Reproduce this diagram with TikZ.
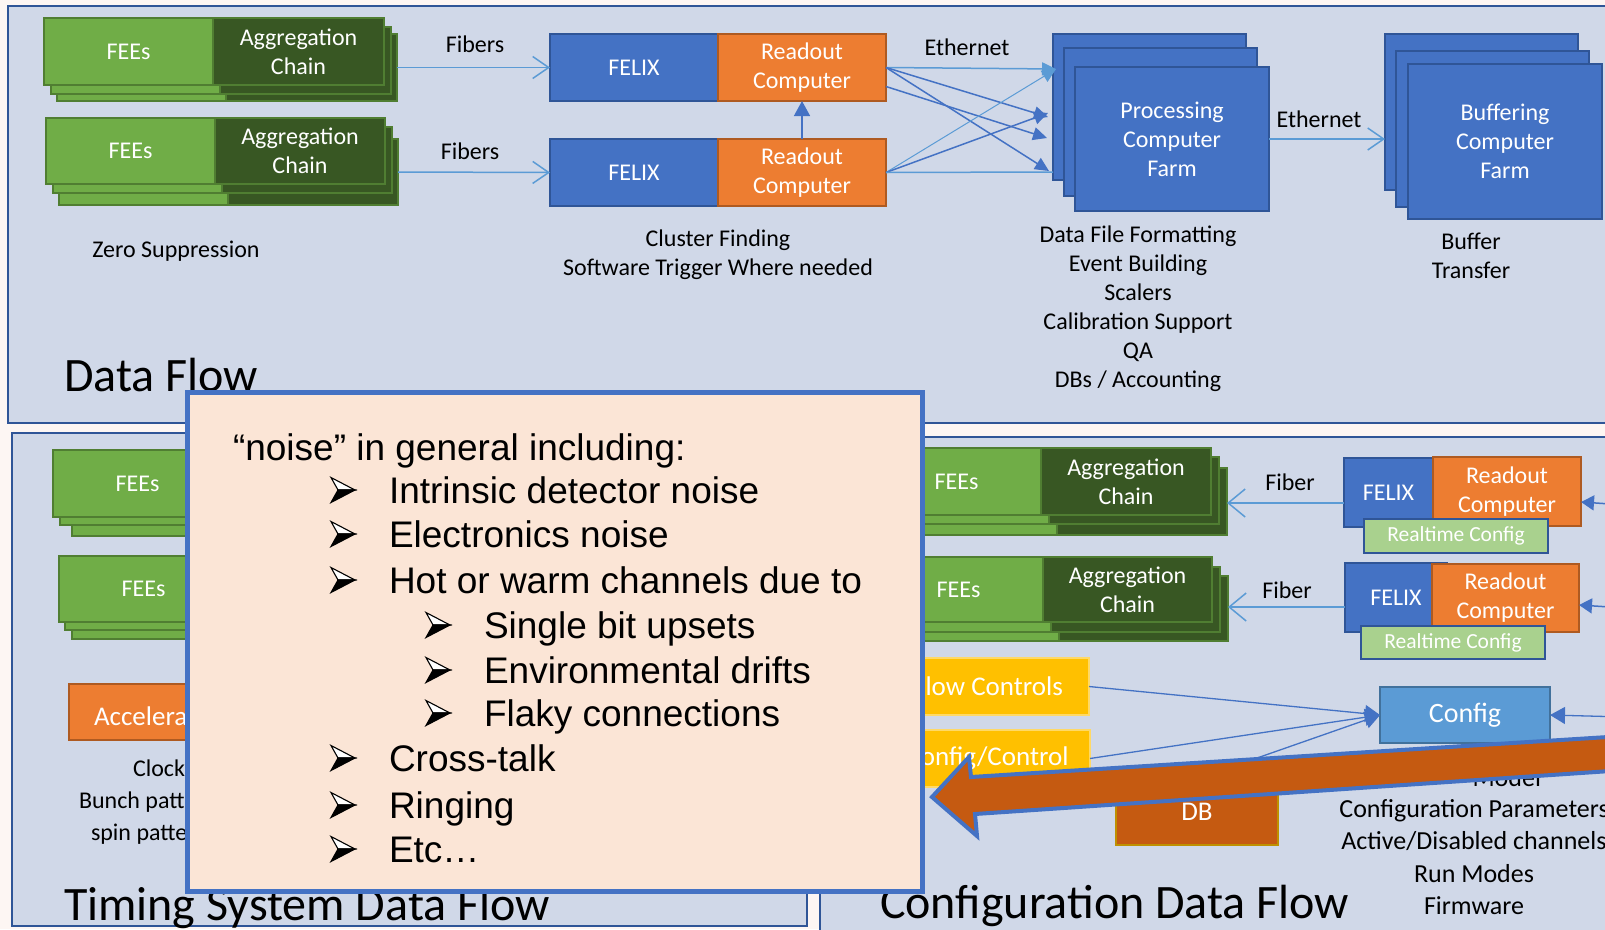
\documentclass[tikz,border=0pt]{standalone}
\usepackage{fontspec}
\setmainfont{Carlito}
\newfontfamily\arialfont{Liberation Sans}
\usetikzlibrary{arrows.meta,fit}

\definecolor{pagebg}{HTML}{FDF6F3}
\definecolor{panelfill}{HTML}{D0D8E8}
\definecolor{panelline}{HTML}{2F5597}
\definecolor{feegreen}{HTML}{70AD47}
\definecolor{feeline}{HTML}{507E32}
\definecolor{aggdark}{HTML}{385723}
\definecolor{boxblue}{HTML}{4472C4}
\definecolor{boxblueline}{HTML}{2F5597}
\definecolor{roorange}{HTML}{ED7D31}
\definecolor{roline}{HTML}{AE5A21}
\definecolor{lightblue}{HTML}{5B9BD5}
\definecolor{cfgline}{HTML}{41719C}
\definecolor{rtgreen}{HTML}{A9D18E}
\definecolor{slowyellow}{HTML}{FFC000}
\definecolor{slowline}{HTML}{FFD966}
\definecolor{dbfill}{HTML}{C55A11}
\definecolor{dbline}{HTML}{BF9000}
\definecolor{notefill}{HTML}{FBE5D6}

\newcommand\fsz[2]{\fontsize{#1}{#2}\selectfont}

\tikzset{
  every node/.style={inner sep=0pt, outer sep=0pt},
  panel/.style={fill=panelfill, draw=panelline, line width=2.5pt},
  boxbase/.style={line width=2pt},
  boxtext/.style={text=white, font=\fsz{24}{29}, align=center},
  txt/.style={label={[boxtext]center:{#1}}},
  feebox/.style={boxbase, fill=feegreen, draw=feeline},
  aggbox/.style={boxbase, fill=aggdark, draw=feeline},
  felixbox/.style={boxbase, fill=boxblue, draw=boxblueline},
  robox/.style={boxbase, fill=roorange, draw=roline},
  farmbox/.style={boxbase, fill=boxblue, draw=boxblueline, line width=2.5pt},
  rtbox/.style={boxbase, fill=rtgreen, draw=boxblueline, line width=2.5pt},
  slowbox/.style={boxbase, fill=slowyellow, draw=slowline},
  cfgbox/.style={boxbase, fill=lightblue, draw=cfgline},
  dbbox/.style={boxbase, fill=dbfill, draw=dbline},
  lbl/.style={font=\fsz{24}{29}, align=center},
  titletext/.style={font=\fsz{48}{56}, anchor=base west},
  fiber/.style={draw=lightblue, line width=1.5pt, -{Straight Barb[length=16pt,width=22pt,line width=1.5pt]}},
  fiberback/.style={draw=lightblue, line width=1.5pt, -{Straight Barb[length=17pt,width=28pt,line width=1.5pt]}},
  eth/.style={draw=boxblue, line width=1.5pt, -{Triangle[length=14pt,width=13pt]}},
  ethl/.style={draw=lightblue, line width=1.5pt, -{Triangle[length=14pt,width=13pt]}},
  cfgarrow/.style={draw=boxblue, line width=1.3pt, -{Triangle[length=15pt,width=17pt]}},
  bigarrow/.style={fill=dbfill, draw=boxblue, line width=4pt, line join=miter},
  noteline/.style={font=\arialfont\fsz{37}{44}, anchor=base west},
  notebullet/.pic={
    \filldraw[fill=white, draw=black, line width=1.1pt, line join=miter]
      (12,0) -- (-12,-12.5) -- (-5,0) -- cycle;
    \filldraw[fill=black, draw=black, line width=1.1pt, line join=miter]
      (12,0) -- (-5,0) -- (-12,12.5) -- cycle;
  },
}

% one layer of an FEE / aggregation stack: name, x-left, x-split, x-right, y-top, y-bottom
\newcommand\feelayer[6]{%
  \node[feebox, fit={(#2,#5)(#3,#6)}] (#1f) {};
  \node[aggbox, fit={(#3,#5)(#4,#6)}] (#1a) {};}

\begin{document}
\begin{tikzpicture}[x=1pt,y=-1pt]
\useasboundingbox (0,0) rectangle (1605,929);
\clip (0,0) rectangle (1605,929);
\fill[pagebg] (0,0) rectangle (1605,929);

% ---------- panels
\node[panel, fit={(8,6)(1640,423)}] (dfpanel) {};
\node[panel, fit={(12,433)(807,926)}] (tspanel) {};
\node[panel, fit={(820,437)(1640,950)}] (cfpanel) {};

% ---------- data flow: detector side
\feelayer{a3}{57}{226}{397}{34}{101}
\feelayer{a2}{51}{220}{391}{27}{94}
\node[feebox, fit={(44,18)(213,85)}, txt={FEEs}] (a1f) {};
\node[aggbox, fit={(213,18)(384,85)}, txt={Aggregation\\Chain}] (a1a) {};

\feelayer{b3}{59}{228}{398}{139}{205}
\feelayer{b2}{53}{222}{392}{127}{193}
\node[feebox, fit={(46,118)(215,184)}, txt={FEEs}] (b1f) {};
\node[aggbox, fit={(215,118)(385,184)}, txt={Aggregation\\Chain}] (b1a) {};

% FELIX + readout
\node[felixbox, fit={(550,34)(718,101)}, txt={FELIX}] (fx1) {};
\node[robox, fit={(718,34)(886,101)}, txt={Readout\\Computer}] (ro1) {};
\node[felixbox, fit={(550,139)(718,206)}, txt={FELIX}] (fx2) {};
\node[robox, fit={(718,139)(886,206)}, txt={Readout\\Computer}] (ro2) {};

\draw[fiber] (a3a.east) -- (fx1.west);
\draw[fiber] (b3a.east) -- (fx2.west);
\node[lbl] (fib1) at (475,44) {Fibers};
\node[lbl] (fib2) at (470,151) {Fibers};
\draw[draw=boxblue, line width=1.5pt, -{Triangle[length=15pt,width=16pt]}] (ro2.north) -- (ro1.south);

% processing farm
\node[farmbox, fit={(1053,34)(1246,180)}] (pfA) {};
\node[farmbox, fit={(1064,48)(1257,196)}] (pfB) {};
\node[farmbox, fit={(1075,67)(1269,211)}, txt={Processing\\Computer\\Farm}] (pfC) {};

% buffering farm
\node[farmbox, fit={(1385,34)(1578,190)}] (bfA) {};
\node[farmbox, fit={(1396,51)(1589,207)}] (bfB) {};
\node[farmbox, fit={(1408,64)(1602,219)}, txt={Buffering\\Computer\\Farm}] (bfC) {};

\draw[fiber] (pfC.east) -- (pfC.east -| bfA.west);
\node[lbl] (eth2) at (1319,119) {Ethernet};
\node[lbl] (eth1) at (967,47) {Ethernet};

% ethernet fan-out from the readout computers
\coordinate (pt1) at (1056,69);
\coordinate (pt2) at (1048,117);
\coordinate (pt3) at (1047,138);
\coordinate (pt4) at (1049,171);
\coordinate (pt5) at (1048,113);
\coordinate (pt6) at (1053,172);
\draw[ethl] (ro1.east) -- (pt1);
\draw[eth] (ro1.east) -- (pt2);
\draw[eth] (ro1.east) -- (pt4);
\draw[eth] ([yshift=-19pt]ro1.east) -- (pt3);
\draw[ethl, line width=1pt] (ro2.east) -- (pt1);
\draw[eth] (ro2.east) -- (pt5);
\draw[draw=lightblue, line width=1.5pt] (ro2.east) -- (pt6);

% annotations
\node[lbl] (zs) at (176,251) {Zero Suppression};
\node[lbl] (cf) at (718,255) {Cluster Finding\\Software Trigger Where needed};
\node[lbl] (dff) at (1138,309) {Data File Formatting\\Event Building\\Scalers\\Calibration Support\\QA\\DBs / Accounting};
\node[lbl] (bt) at (1471,256) {Buffer\\Transfer};
\node[titletext] (dftitle) at (64,391) {Data Flow};

% ---------- timing system
\node[feebox, fit={(72,469)(241,536)}] (t13) {};
\node[feebox, fit={(60,458)(229,525)}] (t12) {};
\node[feebox, fit={(53,450)(222,517)}, txt={FEEs}] (t11) {};
\node[feebox, fit={(72,573)(241,639)}] (t23) {};
\node[feebox, fit={(65,564)(234,630)}] (t22) {};
\node[feebox, fit={(59,556)(228,622)}, txt={FEEs}] (t21) {};
\node[robox, fit={(69,684)(300,740)}] (acc) {};
\node[font=\fsz{27}{32}, text=white, anchor=west] (acctext) at (94,716) {Accelerator};
\node[font=\fsz{24}{29}, anchor=base west] (clk) at (133,776) {Clock};
\node[font=\fsz{24}{29}, anchor=base west] (bunch) at (79,808) {Bunch pattern};
\node[font=\fsz{24}{29}, anchor=base west] (spin) at (91,840) {spin pattern};

% ---------- configuration data flow
\feelayer{c13}{888}{1057}{1227}{468}{535}
\feelayer{c12}{880}{1049}{1219}{457}{524}
\node[feebox, fit={(872,448)(1041,515)}, txt={FEEs}] (c11f) {};
\node[aggbox, fit={(1041,448)(1211,515)}, txt={Aggregation\\Chain}] (c11a) {};

\feelayer{c23}{890}{1059}{1228}{576}{641}
\feelayer{c22}{882}{1051}{1220}{567}{632}
\node[feebox, fit={(874,557)(1043,622)}, txt={FEEs}] (c21f) {};
\node[aggbox, fit={(1043,557)(1212,622)}, txt={Aggregation\\Chain}] (c21a) {};

\node[felixbox, fit={(1344,458)(1433,527)}, txt={FELIX}] (fx3) {};
\node[robox, fit={(1433,457)(1581,526)}, txt={Readout\\Computer}] (ro3) {};
\node[rtbox, fit={(1364,519)(1548,553)},
  label={[boxtext, font=\fsz{21.5}{26}]center:Realtime Config}] (rt3) {};
\node[felixbox, fit={(1345,563)(1447,632)}, txt={FELIX}] (fx4) {};
\node[robox, fit={(1432,564)(1579,632)}, txt={Readout\\Computer}] (ro4) {};
\node[rtbox, fit={(1361,626)(1545,659)},
  label={[boxtext, font=\fsz{21.5}{26}]center:Realtime Config}] (rt4) {};

\draw[fiberback] (fx3.west |- 0,503) -- (c13a.east |- 0,503);
\draw[fiberback] (fx4.west |- 0,607) -- (c23a.east |- 0,607);
\node[lbl] (fib3) at (1290,482) {Fiber};
\node[lbl] (fib4) at (1287,590) {Fiber};

\coordinate (rin3) at (1625,505);
\coordinate (rin4) at (1625,608);
\coordinate (cin) at (1625,717);
\draw[eth, -{Triangle[length=13pt,width=15pt]}] (rin3) -- (ro3.east |- 0,502);
\draw[eth, -{Triangle[length=13pt,width=15pt]}] (rin4) -- (ro4.east |- 0,605);

\node[slowbox, fit={(887,658)(1089,715)},
  label={[boxtext, font=\fsz{27}{32}]center:Slow Controls}] (slow) {};
\node[slowbox, fit={(885,730)(1090,787)},
  label={[boxtext, font=\fsz{27}{32}]center:Config/Control}] (cc) {};
\node[cfgbox, fit={(1380,687)(1550,743)},
  label={[boxtext, font=\fsz{28}{32}]center:Config}] (cfg) {};
\node[dbbox, fit={(1116,779)(1278,845)},
  label={[boxtext, font=\fsz{27}{32}]center:DB}] (db) {};

\draw[cfgarrow] (slow.east) -- (cfg.west);
\draw[cfgarrow] (cc.east) -- (cfg.west);
\draw[cfgarrow] (db.north) -- (cfg.west);
\draw[cfgarrow] (cin) -- (cfg.east);

\node[font=\fsz{26}{32}, anchor=base east] (modeltxt) at (1541,786) {Model};
\node[font=\fsz{26}{32.3}, align=center] (cfginfo) at (1474,857) {Configuration Parameters\\Active/Disabled channels\\Run Modes\\Firmware};

% feedback arrow
\draw[bigarrow] (932,797) -- (969,757) -- (971,777) -- (1640,735) -- (1640,769)
  -- (975,814) -- (977,836) -- cycle;

% ---------- panel titles
\node[titletext] (tstitle) at (64,920) {Timing System Data Flow};
\node[titletext] (cftitle) at (880,918) {Configuration Data Flow};

% ---------- noise note
\node[fit={(187,392)(922,891)}, fill=notefill, draw=boxblue, line width=5pt] (note) {};
\node[noteline] (n0) at (233,460) {“noise” in general including:};
\pic (b1) at (343,490) {notebullet};
\node[noteline] (n1) at (389,503) {Intrinsic detector noise};
\pic (b2) at (343,534) {notebullet};
\node[noteline] (n2) at (389,547) {Electronics noise};
\pic (b3) at (343,580) {notebullet};
\node[noteline] (n3) at (389,593) {Hot or warm channels due to};
\pic (b4) at (438,625) {notebullet};
\node[noteline] (n4) at (484,638) {Single bit upsets};
\pic (b5) at (438,670) {notebullet};
\node[noteline] (n5) at (484,683) {Environmental drifts};
\pic (b6) at (438,713) {notebullet};
\node[noteline] (n6) at (484,726) {Flaky connections};
\pic (b7) at (343,758) {notebullet};
\node[noteline] (n7) at (389,771) {Cross-talk};
\pic (b8) at (343,805) {notebullet};
\node[noteline] (n8) at (389,818) {Ringing};
\pic (b9) at (343,849) {notebullet};
\node[noteline] (n9) at (389,862) {Etc…};
\end{tikzpicture}
\end{document}
